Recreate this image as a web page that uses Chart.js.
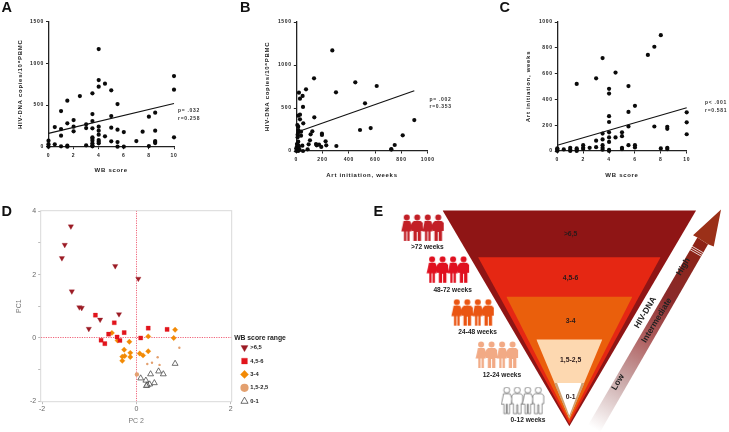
<!DOCTYPE html>
<html><head><meta charset="utf-8">
<style>html,body{margin:0;padding:0;background:#fff;width:729px;height:432px;overflow:hidden}canvas{position:absolute;filter:blur(.3px)}</style>
<script src="https://cdn.jsdelivr.net/npm/chart.js@4"></script></head><body>
<script>
// Panel A: WB score vs HIV-DNA
const wbA=[0,0,0,.5,.5,1,1,1,1,1.5,1.5,1.5,1.5,2,2,2,2.5,3,3,3,3.5,3.5,3.5,3.5,3.5,3.5,3.5,3.5,3.5,3.5,4,4,4,4,4,4,4,4,4,4.5,4.5,5,5,5,5,5.5,5.5,5.5,5.5,6,6,7,7.5,8,8,8.5,8.5,8.5,8.5,8.5,10,10,10];
const hivA=[72,30,0,236,28,428,212,132,4,552,280,12,0,320,240,184,608,268,224,16,640,392,308,220,112,96,72,40,16,4,1172,800,720,240,192,144,80,60,40,756,124,676,368,228,64,512,204,56,0,176,0,68,180,360,8,408,192,68,56,44,848,684,112];
const trendAx=[0,10], trendAy=[160,518];
// Panel B: Art initiation vs HIV-DNA
const artB=[274,135,74,20,28,48,51,302,449,612,523,137,15,28,28,53,8,15,15,15,36,36,10,485,566,898,810,122,109,195,195,104,94,223,228,150,155,173,190,305,86,46,51,749,723,723,10,15,5,5,15,0,5,15,25,0,20];
const hivB=[1170,845,717,678,608,640,512,682,798,756,554,391,411,422,368,322,302,283,244,217,225,178,190,244,267,360,182,229,194,202,186,124,78,112,66,81,66,74,47,58,19,62,0,70,23,16,159,108,81,50,66,31,16,0,12,0,50];
const trendBx=[28,898], trendBy=[232,700];
// Panel C: WB score vs Art initiation
const wbC=[0,0,0,0,.5,1,1,1,1.5,1.5,1.5,1.5,2,2,2,2.5,3,3,3,3.5,3.5,3.5,3.5,3.5,3.5,4,4,4,4,4,4,4,4,4,4.5,4.5,5,5,5,5,5.5,5.5,5.5,5.5,6,6,6,7,7.5,7.5,8,8,8.5,8.5,8.5,8.5,10,10,10];
const artC=[0,8,15,20,12,0,10,25,0,10,20,520,15,25,45,25,30,80,563,10,25,45,90,135,720,0,8,70,105,145,225,270,445,482,105,608,15,25,115,145,45,190,303,503,28,45,350,745,190,808,20,898,15,25,172,188,130,222,300];
const trendCx=[0,10], trendCy=[45,335];
// Panel D: PCA
const scoreGroups=['>6,5','4,5-6','3-4','1,5-2,5','0-1'];
const pc2High=[-1.39,-1.52,-1.58,-.45,.04,-1.37,-1.21,-1.16,-.37,-.77,-1.01];
const pc1High=[3.52,2.94,2.52,2.27,1.87,1.47,.97,.95,.75,.58,.29];
const pc2Mid=[-.87,-.47,-.59,-.26,-.41,-.75,-.67,-.35,.09,.25,.65];
const pc1Mid=[.72,.48,.12,.17,.03,-.07,-.18,-.08,0,.31,.27];
const pc2Three=[.82,.79,.25,-.52,-.4,-.15,-.26,.25,.07,.14,-.13,-.13,-.25,-.3,-.3];
const pc1Three=[.26,0,.05,.16,-.08,-.12,-.37,-.42,-.49,-.55,-.47,-.6,-.57,-.59,-.72];
const pc2Low=[.01,.91,.45,.33,.23,.49];
const pc1Low=[-1.15,-.31,-.61,-.78,-.82,-.85];
const pc2Zero=[.82,.57,.47,.3,.09,.2,.38,.28,.23,.21];
const pc1Zero=[-.81,-1.14,-1.05,-1.14,-1.27,-1.34,-1.42,-1.46,-1.49,-1.51];
const pcXTicks=[-2,0,2];
const pcYTicks=[-2,-1,0,1,2,3,4];
// Panel E: funnel and cohorts
const funnelLabels=['>6,5','4,5-6','3-4','1,5-2,5','0-1'];
const funnelLabelY=[.111,.314,.515,.692,.867];
const layerTop=[0,.2165,.4,.5975,.8,.8];
const layerApex=[1,.99,.976,.964,.964,.95];
const layerHalf=[1,.72,.497,.26,.12,.097];
const cohortLabels=['>72 weeks','48-72 weeks','24-48 weeks','12-24 weeks','0-12 weeks'];
const cohortX=[-1.149,-.949,-.754,-.562,-.36];
const cohortY=[.083,.277,.476,.672,.884];
const cohortLabelX=[-1.121,-.921,-.724,-.532,-.326];
const cohortLabelY=[.172,.371,.566,.762,.972];
const arrowShaftX=[.1476,.2423,1.0947,1.0103], arrowShaftY=[.9953,1.0278,.1562,.1252];
const arrowHeadX=[1.0103,.9763,1.1973,1.1397,1.0947], arrowHeadY=[.1252,.1145,-.0046,.1669,.1562];
const arrowWords=['Low','Intermediate','High','HIV-DNA'];
const arrowWordX=[.3845,.6905,.9,.6];
const arrowWordY=[.796,.509,.261,.473];

Chart.defaults.animation=false;
Chart.defaults.responsive=false;
Chart.defaults.devicePixelRatio=1;
const SANS='"Liberation Sans",Arial,sans-serif';

const notesPlugin={id:'notes',
 beforeDraw(c,a,o){ if(o.spacing) c.ctx.letterSpacing=o.spacing; },
 afterDraw(c,a,o){ const ctx=c.ctx; (o.items||[]).forEach(n=>{ctx.save();
   ctx.letterSpacing=n.ls||'0px'; ctx.font=n.font; ctx.fillStyle=n.color||'#222';
   ctx.textAlign=n.align||'left'; ctx.textBaseline='middle';
   ctx.translate(n.x-o.ox,n.y-o.oy); if(n.rot) ctx.rotate(n.rot*Math.PI/180);
   ctx.fillText(n.text,0,0); ctx.restore();}); }};
Chart.register(notesPlugin);

function canvasAt(l,t,w,h){const c=document.createElement('canvas');c.width=w;c.height=h;
 c.style.left=l+'px';c.style.top=t+'px';c.style.width=w+'px';c.style.height=h+'px';document.body.appendChild(c);return c;}
function zip(a,b){return a.map((v,i)=>({x:v,y:b[i]}));}

const NOTE='bold 5px '+SANS, LETTER='bold 14.5px '+SANS;
function scatterPanel(box,plot,xs,ys,tx,ty,xMax,xStep,yMax,yStep,xTitle,yTitle,xTitleY,yTitleX,items){
 const [cl,ct,cw,ch]=box,[pl,pt,pr,pb]=plot;
 const tickFont={family:SANS,size:5,weight:'bold'},titleFont={family:SANS,size:6,weight:'bold'};
 const lh=7.2;
 new Chart(canvasAt(cl,ct,cw,ch),{type:'scatter',
  data:{datasets:[
   {data:zip(tx,ty),showLine:true,borderColor:'#111',borderWidth:1.1,pointRadius:0,clip:false},
   {data:zip(xs,ys),backgroundColor:'#0a0a0a',borderWidth:0,pointRadius:2.1,clip:false}]},
  options:{layout:{padding:{left:0,top:pt-ct,right:cl+cw-pr,bottom:0}},
   plugins:{legend:{display:false},tooltip:{enabled:false},
    notes:{ox:cl,oy:ct,spacing:'0.7px',items}},
   scales:{
    x:{type:'linear',min:0,max:xMax,
     afterFit(s){s.height=ct+ch-pb;},
     border:{color:'#222',width:1.3},
     grid:{drawOnChartArea:false,tickColor:'#222',tickLength:2.5,tickWidth:1},
     ticks:{stepSize:xStep,maxRotation:0,color:'#222',font:tickFont,padding:3,autoSkip:false,callback:v=>String(v)},
     title:{display:true,text:xTitle,color:'#222',font:titleFont,padding:{top:0,bottom:ct+ch-xTitleY-lh/2}}},
    y:{type:'linear',min:0,max:yMax,
     afterFit(s){s.width=pl-cl;},
     border:{color:'#222',width:1.3},
     grid:{drawOnChartArea:false,tickColor:'#222',tickLength:2.5,tickWidth:1},
     ticks:{stepSize:yStep,color:'#222',font:tickFont,padding:2,autoSkip:false,callback:v=>String(v)},
     title:{display:true,text:yTitle,color:'#222',font:titleFont,padding:{top:yTitleX-cl-lh/2,bottom:0}}}
   }}});
}
scatterPanel([0,0,240,190],[48.5,21.7,174,146.7],wbA,hivA,trendAx,trendAy,10,2,1500,500,'WB score','HIV-DNA copies/10⁶PBMC',170,20,
 [{text:'A',x:1.5,y:8,font:LETTER,color:'#111'},
  {text:'p= .032',x:178,y:111,font:NOTE,ls:'.7px',color:'#333'},{text:'r=0.258',x:178,y:118.3,font:NOTE,ls:'.7px',color:'#333'}]);
scatterPanel([235,0,235,190],[296.3,22,427.7,151],artB,hivB,trendBx,trendBy,1000,200,1500,500,'Art initiation, weeks','HIV-DNA copies/10⁶PBMC',175,267.7,
 [{text:'B',x:240,y:8,font:LETTER,color:'#111'},
  {text:'p= .002',x:429.5,y:99.3,font:NOTE,ls:'.7px',color:'#333'},{text:'r=0.353',x:429.5,y:106.7,font:NOTE,ls:'.7px',color:'#333'}]);
scatterPanel([470,0,259,190],[557.3,22,686.7,151],wbC,artC,trendCx,trendCy,10,2,1000,200,'WB score','Art initiation, weeks',175,528,
 [{text:'C',x:499.5,y:8,font:LETTER,color:'#111'},
  {text:'p< .001',x:705,y:103,font:NOTE,ls:'.7px',color:'#333'},{text:'r=0.581',x:705,y:111,font:NOTE,ls:'.7px',color:'#333'}]);

// Panel D
const frame={id:'frame',
 beforeLayout(c){const l=c.legend; if(l&&!l._fixed){l._fixed=true;const f=l.fit.bind(l);l.fit=function(){f();this.width=52;};}},
 afterLayout(c){const l=c.legend; const h=l.height; l.left=234; l.right=286; l.top=139.5; l.bottom=139.5+h;},
 afterDraw(c){const a=c.chartArea,ctx=c.ctx;ctx.save();ctx.strokeStyle='#d9d9d9';ctx.lineWidth=1;
 ctx.strokeRect(a.left,a.top,a.right-a.left,a.bottom-a.top);ctx.restore();}};
const greyTick={family:SANS,size:7};
new Chart(canvasAt(0,195,300,237),{type:'scatter',
 data:{datasets:[
  {label:scoreGroups[0],data:zip(pc2High,pc1High),pointStyle:'triangle',rotation:180,pointRadius:3.1,backgroundColor:'#9b1b24',borderColor:'#9b1b24',borderWidth:.3},
  {label:scoreGroups[1],data:zip(pc2Mid,pc1Mid),pointStyle:'rect',pointRadius:2.9,backgroundColor:'#e2141c',borderColor:'#e2141c',borderWidth:.3},
  {label:scoreGroups[2],data:zip(pc2Three,pc1Three),pointStyle:'rectRot',pointRadius:2.7,backgroundColor:'#f28a05',borderColor:'#f28a05',borderWidth:.3},
  {label:scoreGroups[3],data:zip(pc2Low,pc1Low),pointStyle:'circle',pointRadius:[2.2,1.2,1.2,1.2,1.2,1.2],backgroundColor:'#e3a06f',borderColor:'#e3a06f',borderWidth:0},
  {label:scoreGroups[4],data:zip(pc2Zero,pc1Zero),pointStyle:'triangle',pointRadius:3.4,backgroundColor:'rgba(255,255,255,.4)',borderColor:'#333',borderWidth:.7}]},
 plugins:[frame],
 options:{layout:{padding:{left:0,top:15.7,right:16.3,bottom:0}},
  plugins:{tooltip:{enabled:false},
   notes:{ox:0,oy:195,items:[{text:'D',x:1.5,y:212,font:LETTER,color:'#111'}]},
   legend:{position:'right',align:'start',
    title:{display:true,text:'WB score range',color:'#222',font:{family:SANS,size:6.8,weight:'bold'},padding:{top:0,bottom:-5.5}},
    labels:{usePointStyle:true,color:'#222',font:{family:SANS,size:5.8,weight:'bold'},padding:7.6}}},
  scales:{
   x:{type:'linear',min:-2.03,max:2.02,afterFit(s){s.height=30.3;},
    afterBuildTicks(s){s.ticks=pcXTicks.map(v=>({value:v}));},
    border:{display:false,dash:[1.2,1.2]},
    grid:{color:c=>c.tick&&c.tick.value===0?'#f0647a':'rgba(0,0,0,0)',tickColor:'#bbb',tickLength:2.5},
    ticks:{maxRotation:0,autoSkip:false,color:'#666',font:greyTick,padding:1,callback:v=>String(v)},
    title:{display:true,text:'PC 2',color:'#777',font:greyTick,padding:{top:0,bottom:7}}},
   y:{type:'linear',min:-2.011,max:4.016,afterFit(s){s.width=40.7;},
    afterBuildTicks(s){s.ticks=pcYTicks.map(v=>({value:v}));},
    border:{display:false,dash:[1.2,1.2]},
    grid:{color:c=>c.tick&&c.tick.value===0?'#f0647a':'rgba(0,0,0,0)',tickColor:'#bbb',tickLength:2.5},
    ticks:{autoSkip:false,color:'#666',font:greyTick,padding:2,callback:v=>v%2===0?String(v):''},
    title:{display:true,text:'PC1',color:'#777',font:greyTick,padding:{top:15,bottom:0}}}
  }}});

// Panel E
function cohortIcon(fill,stroke){
 const c=document.createElement('canvas');c.width=46;c.height=29;const x=c.getContext('2d');
 x.fillStyle=fill;x.strokeStyle=stroke||fill;x.lineWidth=stroke?.6:0;
 [6,16.5,27,37.5].forEach((cx,i)=>{
  x.beginPath();x.arc(cx,3.4,3,0,Math.PI*2);x.fill();if(stroke)x.stroke();
  x.beginPath();
  if(i%2===0){ // dress figure
   x.moveTo(cx-3.2,7);x.lineTo(cx+3.2,7);x.lineTo(cx+5.5,12);x.lineTo(cx+4.6,17.5);x.lineTo(cx+2.8,17.5);x.lineTo(cx+2.8,27);x.lineTo(cx+.5,27);x.lineTo(cx+.5,17.5);x.lineTo(cx-.5,17.5);x.lineTo(cx-.5,27);x.lineTo(cx-2.8,27);x.lineTo(cx-2.8,17.5);x.lineTo(cx-5.5,17.5);x.lineTo(cx-4.2,12);
  } else { // suit figure
   x.moveTo(cx-3.5,7);x.lineTo(cx+3.5,7);x.lineTo(cx+5.5,9);x.lineTo(cx+5.5,17);x.lineTo(cx+3.8,17);x.lineTo(cx+3.8,27);x.lineTo(cx+.5,27);x.lineTo(cx+.5,18);x.lineTo(cx-.5,18);x.lineTo(cx-.5,27);x.lineTo(cx-3.8,27);x.lineTo(cx-3.8,17);x.lineTo(cx-5.5,17);x.lineTo(cx-5.5,9);
  }
  x.closePath();x.fill();if(stroke)x.stroke();
 });
 return c;
}
const layerColors=['#8f1515','#e52713','#ea5f0c','#fdd8b0','#cfa070','#ffffff'];
const cohortIcons=[cohortIcon('#c21f26'),cohortIcon('#e0101f'),cohortIcon('#ea5512'),cohortIcon('#f2aa85'),cohortIcon('#ffffff','#444')];
const levelDatasets=layerTop.map((top,i)=>({
  data:[{x:-layerHalf[i],y:top},{x:0,y:layerApex[i]},{x:layerHalf[i],y:top}],
  fill:{value:top},backgroundColor:layerColors[i],borderWidth:0,pointRadius:0,tension:0,order:10-i}));
const arrowPlugin={id:'arrow',beforeDatasetsDraw(c){
 const sx=c.scales.x,sy=c.scales.y,ctx=c.ctx;
 const path=(xs,ys)=>{ctx.beginPath();xs.forEach((v,i)=>{const px=sx.getPixelForValue(v),py=sy.getPixelForValue(ys[i]);i?ctx.lineTo(px,py):ctx.moveTo(px,py);});ctx.closePath();};
 const ax=sx.getPixelForValue((arrowShaftX[0]+arrowShaftX[1])/2),ay=sy.getPixelForValue((arrowShaftY[0]+arrowShaftY[1])/2);
 const bx=sx.getPixelForValue((arrowShaftX[2]+arrowShaftX[3])/2),by=sy.getPixelForValue((arrowShaftY[2]+arrowShaftY[3])/2);
 const g=ctx.createLinearGradient(ax,ay,bx,by);
 g.addColorStop(0,'#ffffff');g.addColorStop(.25,'#cbabab');g.addColorStop(.48,'#af5f5f');g.addColorStop(.7,'#8a2a2a');g.addColorStop(1,'#8e2214');
 ctx.save();path(arrowShaftX,arrowShaftY);ctx.fillStyle=g;ctx.fill();
 path(arrowHeadX,arrowHeadY);ctx.fillStyle='#9b3018';ctx.fill();
 const L=Math.hypot(bx-ax,by-ay),ux=(ax-bx)/L,uy=(ay-by)/L;
 ctx.strokeStyle='#fff';ctx.lineWidth=.8;
 [10,12,14].forEach(d=>{const mx=bx+ux*d,my=by+uy*d;ctx.beginPath();ctx.moveTo(mx-uy*6.5,my+ux*6.5);ctx.lineTo(mx+uy*6.5,my-ux*6.5);ctx.stroke();});
 ctx.restore();
},
 afterDatasetsDraw(c){
 const sx=c.scales.x,sy=c.scales.y,ctx=c.ctx;ctx.save();ctx.textAlign='center';ctx.textBaseline='middle';
 ctx.font='bold 6.8px '+SANS;ctx.fillStyle='#2a1a1a';
 funnelLabels.forEach((t,i)=>ctx.fillText(t,sx.getPixelForValue(.01),sy.getPixelForValue(funnelLabelY[i])));
 ctx.font='bold 6.6px '+SANS;ctx.fillStyle='#222';
 cohortLabels.forEach((t,i)=>ctx.fillText(t,sx.getPixelForValue(cohortLabelX[i]),sy.getPixelForValue(cohortLabelY[i])));
 ctx.font='bold 8.5px '+SANS;
 arrowWords.forEach((t,i)=>{ctx.save();ctx.translate(sx.getPixelForValue(arrowWordX[i]),sy.getPixelForValue(arrowWordY[i]));ctx.rotate(-59*Math.PI/180);ctx.fillText(t,0,0);ctx.restore();});
 ctx.restore();
}};
new Chart(canvasAt(360,195,369,237),{type:'line',
 data:{datasets:[...levelDatasets,
  {data:zip(cohortX,cohortY),showLine:false,pointStyle:cohortIcons,pointRadius:5,borderWidth:0,order:0}]},
 plugins:[arrowPlugin],
 options:{layout:{padding:0,autoPadding:false},
  plugins:{legend:{display:false},tooltip:{enabled:false},
   notes:{ox:360,oy:195,items:[{text:'E',x:373.5,y:211.5,font:LETTER,color:'#111'}]}},
  scales:{x:{type:'linear',display:false,min:-1.652,max:1.26},
          y:{type:'linear',display:false,reverse:true,min:-.0719,max:1.0269}}}});
</script>
</body></html>
